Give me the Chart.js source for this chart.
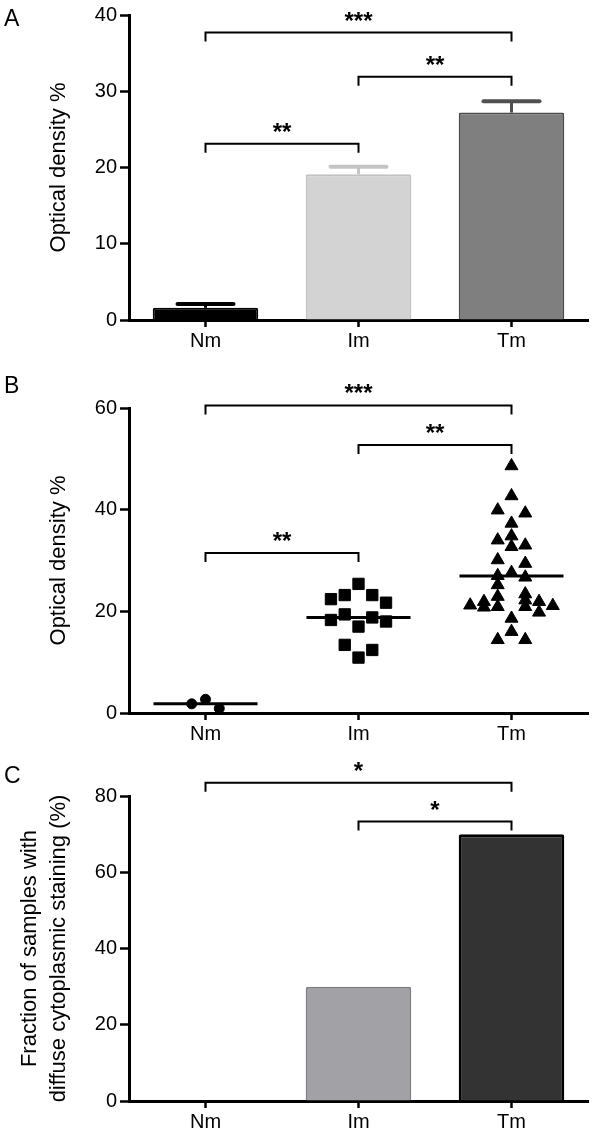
<!DOCTYPE html>
<html lang="en">
<head>
<meta charset="UTF-8">
<title>Optical density and diffuse cytoplasmic staining</title>
<script src="https://cdn.jsdelivr.net/npm/chart.js"></script>
<style>
  body { margin: 0; background: #fff; font-family: "Liberation Sans", Arial, sans-serif; }
  #page { position: relative; width: 600px; height: 1135px; overflow: hidden; }
  canvas { position: absolute; left: 0; }
  .tag { position: absolute; left: 4px; font-size: 23px; line-height: 1; color: #000; }
</style>
</head>
<body>
<div id="page">
  <canvas id="chartA" style="top:0" width="600" height="364"></canvas>
  <canvas id="chartB" style="top:380px" width="600" height="375"></canvas>
  <canvas id="chartC" style="top:760px" width="600" height="375"></canvas>
  <div class="tag" style="top:7px">A</div>
  <div class="tag" style="top:374px">B</div>
  <div class="tag" style="top:764px">C</div>
</div>

<script>
// groups on the x axis
const groups = ['Nm', 'Im', 'Tm'];

// A: mean optical density (%) and error
const densityMean = [1.6, 19.1, 27.2];
const densityErr = [0.5, 1.0, 1.5];

// B: individual samples, optical density (%)
const nmDensity = [2.7, 0.9, 1.8];
const imDensity = [25.4, 23.2, 23.2, 22.4, 21.7, 19.4, 18.8, 18.3, 18.0, 17.0, 13.4, 12.4, 10.9];
const tmDensity = [48.6, 42.7, 39.9, 39.3, 37.3, 34.8, 34.0, 33.0, 32.7, 30.1, 29.4, 27.6, 27.0, 26.7, 25.2,
                   23.4, 22.9, 22.2, 21.9, 21.9, 21.2, 21.1, 20.9, 20.9, 20.8, 19.8, 18.6, 16.0, 14.4, 14.4];

// C: fraction of samples with diffuse cytoplasmic staining (%)
const diffuseFraction = [0, 30, 70];

// significance brackets: from group, to group, height (axis units), stars
const sigA = [['Nm', 'Tm', 37.7, '***'], ['Im', 'Tm', 31.9, '**'], ['Nm', 'Im', 23.1, '**']];
const sigB = [['Nm', 'Tm', 60.5, '***'], ['Im', 'Tm', 52.7, '**'], ['Nm', 'Im', 31.5, '**']];
const sigC = [['Nm', 'Tm', 83.5, '*'], ['Im', 'Tm', 73.3, '*']];

Chart.defaults.font.family = '"Liberation Sans", Arial, sans-serif';
Chart.defaults.color = '#000';

// spread points of one group sideways, row by row (dot plot layout)
function swarm(values, idx) {
  const rowH = 2.0, slotW = 0.09;
  const order = values.map((v, i) => i).sort((a, b) => values[b] - values[a]);
  const xs = [];
  let k = 0;
  while (k < order.length) {
    const row = [order[k]];
    let j = k + 1;
    while (j < order.length && values[order[k]] - values[order[j]] < rowH) { row.push(order[j]); j++; }
    const seq = row.length % 2 ? [0] : [];
    for (let s = 1; seq.length < row.length; s++) seq.push(-s, s);
    row.forEach((p, m) => { xs[p] = idx + seq[m] * slotW; });
    k = j;
  }
  return values.map((v, i) => ({ x: xs[i], y: v }));
}

const mean = arr => arr.reduce((a, b) => a + b, 0) / arr.length;

// error bars, mean lines and significance brackets
const marks = {
  id: 'marks',
  afterDatasetsDraw(chart, args, o) {
    const ctx = chart.ctx, xs = chart.scales.x, ys = chart.scales.y;
    ctx.save();
    if (o.errors) {
      const meta = chart.getDatasetMeta(0);
      const vals = chart.data.datasets[0].data;
      o.errors.forEach((e, i) => {
        const x = meta.data[i].x;
        const top = ys.getPixelForValue(vals[i]);
        const cap = ys.getPixelForValue(vals[i] + e);
        ctx.strokeStyle = o.errColors[i];
        ctx.lineCap = 'butt';
        ctx.lineWidth = 3;
        ctx.beginPath(); ctx.moveTo(x, top); ctx.lineTo(x, cap); ctx.stroke();
        ctx.lineCap = 'round';
        ctx.lineWidth = 4;
        ctx.beginPath(); ctx.moveTo(x - 28, cap); ctx.lineTo(x + 28, cap); ctx.stroke();
      });
    }
    if (o.means) {
      ctx.strokeStyle = '#000';
      ctx.lineWidth = 3;
      ctx.lineCap = 'butt';
      o.means.forEach((arr, i) => {
        const y = ys.getPixelForValue(mean(arr));
        ctx.beginPath();
        ctx.moveTo(xs.getPixelForValue(i - 0.34), y);
        ctx.lineTo(xs.getPixelForValue(i + 0.34), y);
        ctx.stroke();
      });
    }
    (o.brackets || []).forEach(([a, b, v, stars]) => {
      const x1 = xs.getPixelForValue(groups.indexOf(a));
      const x2 = xs.getPixelForValue(groups.indexOf(b));
      const y = ys.getPixelForValue(v);
      ctx.strokeStyle = '#000';
      ctx.lineWidth = 2;
      ctx.lineCap = 'butt';
      ctx.beginPath();
      ctx.moveTo(x1, y + 9); ctx.lineTo(x1, y); ctx.lineTo(x2, y); ctx.lineTo(x2, y + 9);
      ctx.stroke();
      ctx.fillStyle = '#000';
      ctx.font = 'bold 24px "Liberation Sans", Arial, sans-serif';
      ctx.textAlign = 'center';
      ctx.textBaseline = 'alphabetic';
      ctx.fillText(stars, (x1 + x2) / 2, y - 4);
    });
    ctx.restore();
  }
};

function xAxis(h) {
  return {
    grid: { display: true, drawOnChartArea: false, offset: false, tickLength: 7, tickWidth: 2.5, tickColor: '#000' },
    border: { display: true, color: '#000', width: 3 },
    ticks: { font: { size: 20 }, color: '#000', padding: 2, maxRotation: 0 },
    afterFit(s) { s.height = h; }
  };
}

function yAxis(max, step, title, pad, lh) {
  return {
    min: 0,
    max: max,
    ticks: { stepSize: step, font: { size: 20 }, color: '#000', padding: 3 },
    grid: { display: true, drawOnChartArea: false, tickLength: 9, tickWidth: 2.5, tickColor: '#000' },
    border: { display: true, color: '#000', width: 3 },
    title: { display: true, text: title, color: '#000', font: { size: 22, lineHeight: lh }, padding: { top: pad, bottom: 0 } },
    afterFit(s) { s.width = 129; }
  };
}

const quiet = { legend: { display: false }, tooltip: { enabled: false } };

// A
new Chart(document.getElementById('chartA'), {
  type: 'bar',
  data: {
    labels: groups,
    datasets: [{
      data: densityMean,
      backgroundColor: ['#000000', '#d3d3d3', '#7f7f7f'],
      borderColor: ['#000000', '#c2c2c2', '#4a4a4a'],
      borderWidth: 2,
      borderRadius: 2,
      barPercentage: 0.69,
      categoryPercentage: 1
    }]
  },
  options: {
    responsive: false,
    animation: false,
    layout: { padding: { top: 15, right: 12, left: 0, bottom: 0 } },
    plugins: Object.assign({}, quiet, {
      marks: { errors: densityErr, errColors: ['#000000', '#c4c4c4', '#505050'], brackets: sigA }
    }),
    scales: { x: xAxis(44), y: yAxis(40, 10, 'Optical density %', 46, 1.2) }
  },
  plugins: [marks]
});

// B
const xB = xAxis(42);
Object.assign(xB, {
  type: 'linear',
  min: -0.5,
  max: 2.5,
  afterBuildTicks(s) { s.ticks = groups.map((g, i) => ({ value: i })); }
});
xB.ticks.callback = v => groups[v];

new Chart(document.getElementById('chartB'), {
  type: 'scatter',
  data: {
    datasets: [
      { data: swarm(nmDensity, 0), pointStyle: 'circle', pointRadius: 5, backgroundColor: '#000', borderColor: '#000', clip: false },
      { data: swarm(imDensity, 1), pointStyle: 'rect', pointRadius: 8, backgroundColor: '#000', borderColor: '#000', clip: false },
      { data: swarm(tmDensity, 2), pointStyle: 'triangle', pointRadius: 7.5, backgroundColor: '#000', borderColor: '#000', clip: false }
    ]
  },
  options: {
    responsive: false,
    animation: false,
    layout: { padding: { top: 28, right: 12, left: 0, bottom: 0 } },
    plugins: Object.assign({}, quiet, {
      marks: { means: [nmDensity, imDensity, tmDensity], brackets: sigB }
    }),
    scales: { x: xB, y: yAxis(60, 20, 'Optical density %', 46, 1.2) }
  },
  plugins: [marks]
});

// C
new Chart(document.getElementById('chartC'), {
  type: 'bar',
  data: {
    labels: groups,
    datasets: [{
      data: diffuseFraction,
      backgroundColor: ['#ffffff', '#a2a2a6', '#333333'],
      borderColor: ['#ffffff', '#7d7d80', '#000000'],
      borderWidth: [0, 2, 3],
      borderRadius: 2,
      barPercentage: 0.69,
      categoryPercentage: 1
    }]
  },
  options: {
    responsive: false,
    animation: false,
    layout: { padding: { top: 36, right: 12, left: 0, bottom: 0 } },
    plugins: Object.assign({}, quiet, { marks: { brackets: sigC } }),
    scales: {
      x: xAxis(34),
      y: yAxis(80, 20, ['Fraction of samples with', 'diffuse cytoplasmic staining (%)'], 16, 1.3)
    }
  },
  plugins: [marks]
});
</script>
</body>
</html>
